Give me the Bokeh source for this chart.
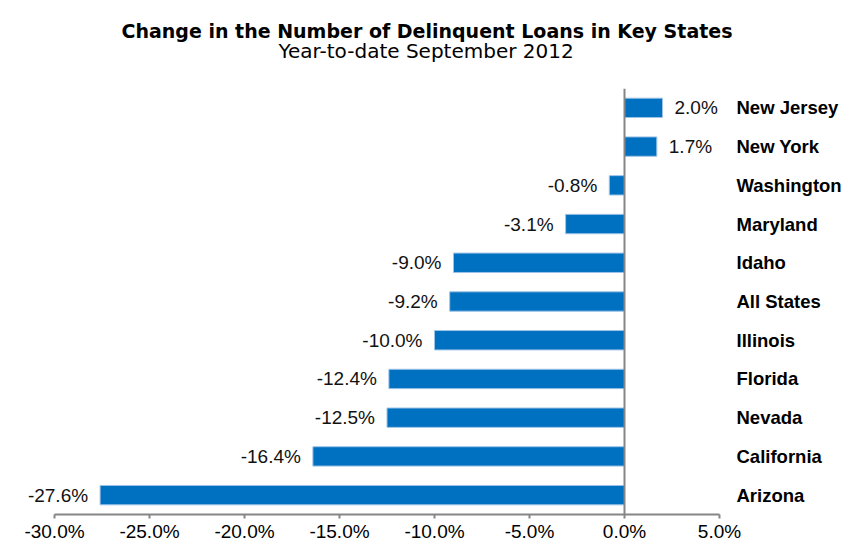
from bokeh.plotting import figure
from bokeh.models import (ColumnDataSource, FactorRange, Range1d, Span, Title,
                          PrintfTickFormatter, FixedTicker)
from bokeh.core.properties import value
from bokeh.embed import file_html
from bokeh.resources import INLINE

# ---- data ----
states = ["New Jersey", "New York", "Washington", "Maryland", "Idaho", "All States",
          "Illinois", "Florida", "Nevada", "California", "Arizona"]
changes = [2.0, 1.7, -0.8, -3.1, -9.0, -9.2, -10.0, -12.4, -12.5, -16.4, -27.6]
x_ticks = [-30, -25, -20, -15, -10, -5, 0, 5]
title_text = "Change in the Number of Delinquent Loans in Key States"
subtitle_text = "Year-to-date September 2012"

FONT = "Liberation Sans"
BAR = "#0070C0"
GRAY = "#868686"

labels = [f"{v:.1f}%" for v in changes]
pos = ColumnDataSource(dict(
    state=[s for s, v in zip(states, changes) if v >= 0],
    v=[v for v in changes if v >= 0],
    lab=[l for l, v in zip(labels, changes) if v >= 0]))
neg = ColumnDataSource(dict(
    state=[s for s, v in zip(states, changes) if v < 0],
    v=[v for v in changes if v < 0],
    lab=[l for l, v in zip(labels, changes) if v < 0]))
src = ColumnDataSource(dict(state=states, v=changes))

p = figure(width=848, height=544, output_backend="svg", toolbar_location=None,
           title=None,
           y_range=FactorRange(factors=states[::-1]),
           x_range=Range1d(-32, 5),
           y_axis_location="right",
           min_border_left=16, min_border_right=129,
           min_border_top=88, min_border_bottom=27)

p.hbar(y="state", right="v", left=0, height=0.5, source=src,
       fill_color=BAR, line_color="#9DC3E6", line_width=1)

p.text(x="v", y="state", text="lab", source=pos, x_offset=12,
       text_align="left", text_baseline="middle",
       text_font=value(FONT), text_font_size="19px", text_color="#111111")
p.text(x="v", y="state", text="lab", source=neg, x_offset=-12,
       text_align="right", text_baseline="middle",
       text_font=value(FONT), text_font_size="19px", text_color="#111111")

p.add_layout(Span(location=0, dimension="height", line_color=GRAY, line_width=2))

# x axis
xa = p.xaxis[0]
xa.ticker = FixedTicker(ticks=x_ticks)
xa.bounds = (-30, 5)
xa.formatter = PrintfTickFormatter(format="%.1f%%")
xa.axis_line_color = GRAY
xa.axis_line_width = 2
xa.major_tick_line_color = GRAY
xa.major_tick_line_width = 2
xa.major_tick_in = 0
xa.major_tick_out = 4
xa.minor_tick_line_color = None
xa.major_label_standoff = 2
xa.major_label_text_font = FONT
xa.major_label_text_font_size = "19px"
xa.major_label_text_color = "#000000"

# y axis (state names on the right)
ya = p.yaxis[0]
ya.axis_line_color = None
ya.major_tick_line_color = None
ya.minor_tick_line_color = None
ya.major_tick_in = 0
ya.major_tick_out = 0
ya.major_label_standoff = 17
ya.major_label_text_font = FONT
ya.major_label_text_font_size = "18.5px"
ya.major_label_text_font_style = "bold"
ya.major_label_text_color = "#000000"

p.xgrid.grid_line_color = None
p.ygrid.grid_line_color = None
p.outline_line_color = None
p.background_fill_color = "white"
p.border_fill_color = "white"

# titles stacked upward from the plot frame: spacer, subtitle, main title
spacer = Title(text=" ", text_font_size="1px", standoff=23)
sub = Title(text=subtitle_text, align="left", offset=262, text_font="DejaVu Sans",
            text_font_size="20px", text_font_style="normal",
            text_color="#000000", standoff=0)
main = Title(text=title_text, align="left", offset=105, text_font="DejaVu Sans",
             text_font_size="19px", text_font_style="bold",
             text_color="#000000", standoff=-10)
p.add_layout(spacer, "above")
p.add_layout(sub, "above")
p.add_layout(main, "above")

open("out.html", "w").write(file_html(p, INLINE))
